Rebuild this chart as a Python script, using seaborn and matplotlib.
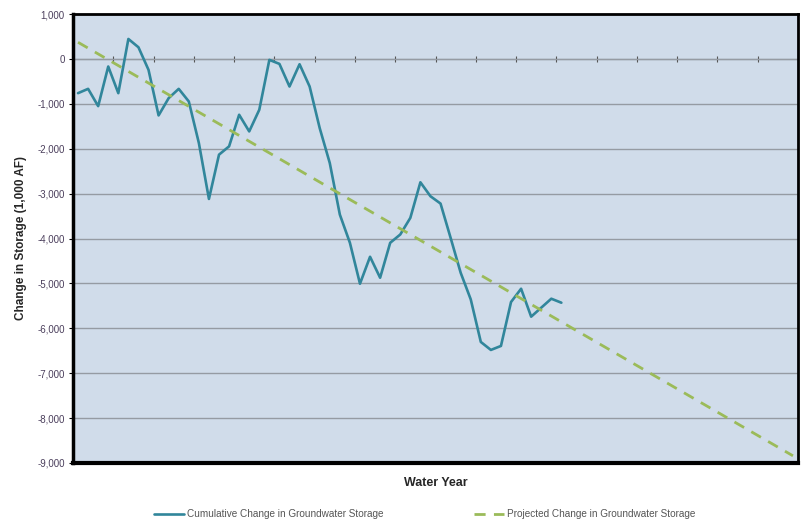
import pandas as pd
import matplotlib.pyplot as plt
import seaborn as sns

# cumulative change in groundwater storage (1,000 AF), one value per water year
cumulative = [-763, -667, -1052, -170, -763, 444, 259, -244, -1259, -874,
              -667, -948, -1874, -3119, -2133, -1948, -1244, -1615, -1133, -22,
              -111, -615, -119, -615, -1541, -2319, -3467, -4096, -5007, -4407,
              -4874, -4096, -3911, -3541, -2748, -3059, -3222, -3985, -4763, -5356,
              -6304, -6482, -6393, -5415, -5119, -5741, -5541, -5341, -5430]
# projected trend, start and end year
proj_years = [0, 71]
proj_values = [370, -8840]
n_years = 72
y_ticks = [1000, 0, -1000, -2000, -3000, -4000, -5000, -6000, -7000, -8000, -9000]

df = pd.DataFrame({"Year": range(len(cumulative)), "Storage": cumulative})
df_proj = pd.DataFrame({"Year": proj_years, "Storage": proj_values})

sns.set_style("white")
plt.rcParams['font.family'] = ['Liberation Sans Narrow', 'Liberation Sans', 'DejaVu Sans']

fig = plt.figure(figsize=(8.04, 5.2), dpi=100)
ax = fig.add_axes([73/804, 1 - 463/520, 725/804, 449/520])
ax.set_facecolor("#d0dcea")

sns.lineplot(data=df, x="Year", y="Storage", ax=ax, color="#31869b", linewidth=1.9,
             label="Cumulative Change in Groundwater Storage")
sns.lineplot(data=df_proj, x="Year", y="Storage", ax=ax, color="#9bbb59", linewidth=2.0,
             dashes=False, label="Projected Change in Groundwater Storage")
ax.lines[1].set_linestyle((0, (4, 3)))

ax.set_xlim(-0.5, n_years - 0.5)
ax.set_ylim(-9000, 1000)
ax.set_yticks(y_ticks)
ax.set_yticklabels([f"{v:,}" for v in y_ticks], fontsize=7, color="#4b3f5c")
ax.yaxis.grid(True, color="#959ba3", linewidth=1.0)
ax.set_axisbelow(True)
ax.set_xticks([])
ax.tick_params(axis="y", direction="out", length=3, width=0.8, color="black", pad=3, left=True)

# category axis crosses at zero, with a tick every 4 years
zero_axis = ax.secondary_xaxis(0.9)
zero_axis.set_xticks([k - 0.5 for k in range(4, n_years, 4)])
zero_axis.tick_params(direction="inout", length=5, width=0.8, color="#555555", labelbottom=False, labeltop=False)
zero_axis.spines["bottom"].set_color("#70767e")
zero_axis.spines["bottom"].set_linewidth(1.0)

for side, w in [("left", 2.5), ("bottom", 3.0), ("top", 2.0), ("right", 2.0)]:
    ax.spines[side].set_visible(True)
    ax.spines[side].set_color("black")
    ax.spines[side].set_linewidth(w)

ax.set_xlabel("Water Year", fontsize=9, fontweight="bold", labelpad=10, family=['Liberation Sans', 'DejaVu Sans'])
ax.set_ylabel("Change in Storage (1,000 AF)", fontsize=8.5, fontweight="bold", labelpad=7,
              family=['Liberation Sans', 'DejaVu Sans'])

handles, labels = ax.get_legend_handles_labels()
ax.get_legend().remove()
leg = fig.legend(handles, labels, loc="lower center", bbox_to_anchor=(0.528, -0.016), ncol=2,
                 frameon=False, fontsize=7.2, columnspacing=9, handlelength=3.0, handletextpad=0.3)
for t in leg.get_texts():
    t.set_color("#555555")

fig.savefig("out.png", dpi=100)
